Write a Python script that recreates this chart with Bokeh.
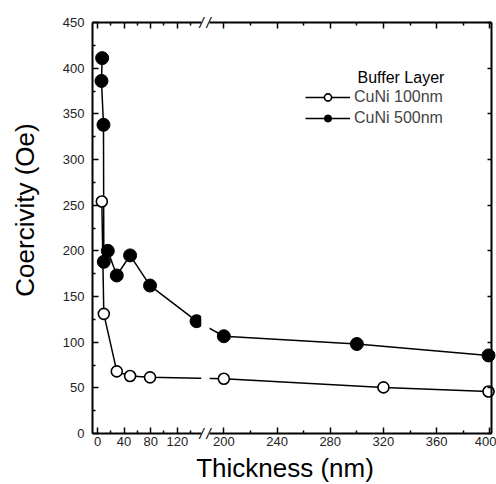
import math
from bokeh.plotting import figure
from bokeh.models import (LinearAxis, FixedTicker, Range1d, Label, BoxAnnotation,
                          Legend, LegendItem)
from bokeh.embed import file_html
from bokeh.resources import INLINE

# ---- data ----
thick_100 = [6.5, 9.5, 29, 49, 79, 200, 320, 399]
coer_100 = [254, 131, 68, 63, 61.5, 60, 50.5, 46]

thick_500 = [7, 6, 9, 9.5, 15.5, 29, 49, 79, 149, 200, 300, 399]
coer_500 = [411, 386, 338, 188, 200, 173, 195, 162, 123, 106.5, 98, 85.5]

x_major = [0, 40, 80, 120, 200, 240, 280, 320, 360, 400]
x_minor = [20, 60, 100, 140, 220, 260, 300, 340, 380]
y_major = [0, 50, 100, 150, 200, 250, 300, 350, 400, 450]
y_minor = [25, 75, 125, 175, 225, 275, 325, 375, 425]

series_names = ["CuNi 100nm", "CuNi 500nm"]
legend_title = "Buffer Layer"
x_title = "Thickness (nm)"
y_title = "Coercivity (Oe)"

# ---- broken x scale: 0..~160 compressed by 2, then ~186..400 ----
BREAK_AT = 170
OFFSET = 105


def brk(x):
    return x / 2 if x <= BREAK_AT else x - OFFSET


X_LO, X_HI = -3.76, 296.2      # plot box in scale units
Y_LO, Y_HI = 0, 450
GAP_L, GAP_R = 78.0, 84.3       # axis break

FONT = "Liberation Sans"
W, H = 496, 484

# frame = whole canvas; axes are drawn at fixed locations inside it
p = figure(width=W, height=H, output_backend="svg", toolbar_location=None,
           x_range=Range1d(-72.93, 300.0), y_range=Range1d(-55.84, 474.09),
           x_axis_location=None, y_axis_location=None,
           min_border=0)
p.outline_line_color = None
p.background_fill_color = "white"
p.border_fill_color = "white"
p.grid.visible = False

xt = FixedTicker(ticks=[brk(t) for t in x_major], minor_ticks=[brk(t) for t in x_minor])
yt = FixedTicker(ticks=y_major, minor_ticks=y_minor)

bottom = LinearAxis(ticker=xt, fixed_location=Y_LO, bounds=(X_LO, X_HI),
                    major_label_overrides={brk(t): str(t) for t in x_major},
                    major_label_standoff=4)
top = LinearAxis(ticker=xt, fixed_location=Y_HI, bounds=(X_LO, X_HI),
                 major_label_overrides={brk(t): "" for t in x_major})
left = LinearAxis(ticker=yt, fixed_location=X_LO, bounds=(Y_LO, Y_HI),
                  major_label_standoff=8)
right = LinearAxis(ticker=FixedTicker(ticks=y_major, minor_ticks=[]),
                   fixed_location=X_HI, bounds=(Y_LO, Y_HI),
                   major_label_overrides={t: "" for t in y_major})
p.add_layout(bottom, "below")
p.add_layout(top, "above")
p.add_layout(left, "left")
p.add_layout(right, "right")

for ax in [bottom, top, left, right]:
    ax.axis_line_width = 2
    ax.axis_line_color = "black"
    ax.major_tick_in = 6
    ax.major_tick_out = 0
    ax.minor_tick_in = 3
    ax.minor_tick_out = 0
    ax.major_tick_line_width = 1.5
    ax.minor_tick_line_width = 1.5
    ax.major_tick_line_color = "black"
    ax.minor_tick_line_color = "black"
    ax.major_label_text_font = FONT
    ax.major_label_text_font_size = "13px"
    ax.major_label_text_color = "#222222"
right.major_tick_in = 4

# ---- data ----
l100 = p.line([brk(x) for x in thick_100], coer_100, line_width=1.5, line_color="black")
l500 = p.line([brk(x) for x in thick_500], coer_500, line_width=1.5, line_color="black")
s500 = p.scatter([brk(x) for x in thick_500], coer_500, size=13, fill_color="black",
                 line_color="black", line_width=1)
s100 = p.scatter([brk(x) for x in thick_100], coer_100, size=11, fill_color="white",
                 line_color="black", line_width=1.6)

# ---- axis break ----
p.add_layout(BoxAnnotation(left=GAP_L, right=GAP_R, bottom=Y_LO - 6, top=Y_HI + 6,
                           fill_color="white", fill_alpha=1.0, line_color=None))
for yy in [Y_LO, Y_HI]:
    for xx in [GAP_L + 0.2, GAP_R - 0.7]:
        p.add_layout(Label(x=xx, y=yy, text="/", text_align="center",
                           text_baseline="middle", text_font=FONT,
                           text_font_style="italic",
                           text_font_size="15px", text_color="black"))

# ---- legend ----
legend = Legend(items=[LegendItem(label=series_names[0], renderers=[l100, s100]),
                       LegendItem(label=series_names[1], renderers=[l500, s500])],
                location=(305, 357), glyph_width=45, glyph_height=18,
                label_height=18, label_standoff=4, padding=0, margin=0, spacing=3,
                border_line_color=None, background_fill_alpha=0,
                label_text_font=FONT, label_text_font_size="16px")
p.add_layout(legend)
p.add_layout(Label(x=357, y=407.5, x_units="screen", y_units="screen", text=legend_title,
                   text_font=FONT, text_font_size="16px", text_color="black",
                   text_baseline="middle"))

# ---- axis titles ----
p.add_layout(Label(x=24, y=274.5, x_units="screen", y_units="screen", text=y_title,
                   angle=math.pi / 2, text_align="center", text_baseline="middle",
                   text_font=FONT, text_font_size="26px", text_color="black"))
p.add_layout(Label(x=284.5, y=16.5, x_units="screen", y_units="screen", text=x_title,
                   text_align="center", text_baseline="middle",
                   text_font=FONT, text_font_size="26px", text_color="black"))

open("out.html", "w").write(file_html(p, INLINE))
